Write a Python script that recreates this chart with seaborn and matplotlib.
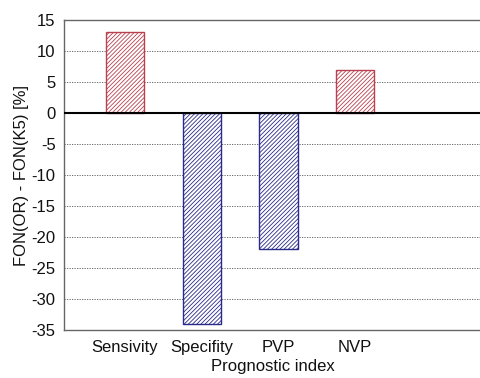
import numpy as np
import pandas as pd
import matplotlib
matplotlib.use('Agg')
import matplotlib.pyplot as plt
import seaborn as sns

# values
indices = ['Sensivity', 'Specifity', 'PVP', 'NVP']
diff_pct = [13, -34, -22, 7]

df = pd.DataFrame({'index': indices, 'diff': diff_pct})
df['sign'] = np.where(df['diff'] >= 0, 'pos', 'neg')

sns.set_style('white')
plt.rcParams['font.family'] = ['Liberation Sans', 'DejaVu Sans']
plt.rcParams['hatch.linewidth'] = 0.6
plt.rcParams['axes.unicode_minus'] = False

fig = plt.figure(figsize=(4.81, 3.78), dpi=100)
ax = fig.add_axes([0.133, 0.127, 0.867, 0.820])

sns.barplot(data=df, x='index', y='diff', color='white', width=0.5, ax=ax)

edge = {'pos': '#b84050', 'neg': '#2a2a8a'}
for p, s in zip(ax.patches, df['sign']):
    p.set_facecolor('white')
    p.set_edgecolor(edge[s])
    p.set_hatch('////////')
    p.set_linewidth(1.0)

ax.set_ylim(-35, 15)
ax.set_yticks(np.arange(-35, 16, 5))
ax.set_xlim(-0.795, 4.64)
for y in np.arange(-30, 15, 5):
    if y != 0:
        ax.axhline(y, color='#555555', linestyle=(0, (1.5, 1.5)), linewidth=0.6, zorder=0)
ax.axhline(0, color='black', linewidth=1.5, zorder=3)

for side in ['left', 'top', 'bottom']:
    ax.spines[side].set_color('#666666')
    ax.spines[side].set_linewidth(1.0)
ax.spines['right'].set_visible(False)

ax.tick_params(axis='y', labelsize=12, direction='in', length=3, width=0.8,
               color='#666666', labelcolor='#111111', pad=6)
ax.tick_params(axis='x', labelsize=12, length=0, labelcolor='#111111', pad=7)
ax.set_xlabel('Prognostic index', fontsize=12, labelpad=3, color='#111111')
ax.set_ylabel('FON(OR) - FON(K5) [%]', fontsize=12, labelpad=2, color='#111111')

fig.savefig('out.png', dpi=100)
